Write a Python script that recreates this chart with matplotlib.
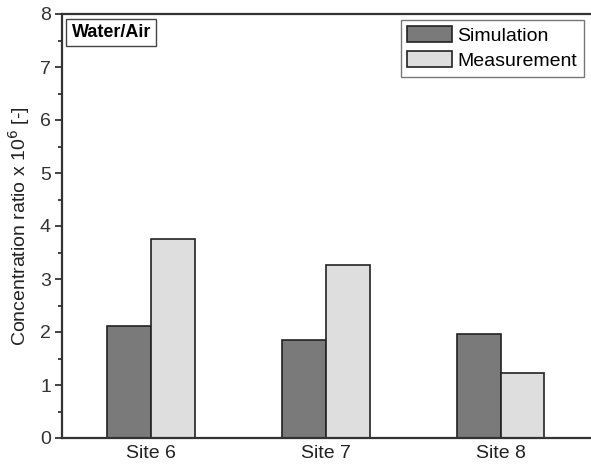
import matplotlib
matplotlib.use("Agg")
import matplotlib.pyplot as plt
import numpy as np
from matplotlib.ticker import MultipleLocator

plt.rcParams['font.family'] = ['Liberation Sans', 'DejaVu Sans']

sites = ["Site 6", "Site 7", "Site 8"]
simulation = [2.12, 1.85, 1.97]
measurement = [3.75, 3.27, 1.22]
series_names = ["Simulation", "Measurement"]

fig = plt.figure(figsize=(5.91, 4.67), dpi=100)
ax = fig.add_axes([62/591, 1-438/467, 1-62/591+0.01, (438-14)/467])

x = np.arange(1, len(sites)+1)
w = 0.25
ax.bar(x - w/2, simulation, w, color="#7a7a7a", edgecolor="#222222", linewidth=1.2, label=series_names[0])
ax.bar(x + w/2, measurement, w, color="#dedede", edgecolor="#222222", linewidth=1.2, label=series_names[1])

ax.set_xlim(0.49, 3.55)
ax.set_ylim(0, 8)
ax.set_xticks(x)
ax.set_xticklabels(sites, fontsize=14)
ax.tick_params(axis='x', length=0, pad=5, labelcolor="#222222")
ax.yaxis.set_major_locator(MultipleLocator(1))
ax.yaxis.set_minor_locator(MultipleLocator(0.5))
ax.tick_params(axis='y', which='major', length=5, width=1.2, labelsize=14, colors="#222222", labelcolor="#333333", pad=3)
ax.tick_params(axis='y', which='minor', length=3, width=1.2, colors="#222222")
for s in ["left", "bottom", "top"]:
    ax.spines[s].set_linewidth(1.6)
    ax.spines[s].set_color("#333333")
ax.spines["right"].set_visible(False)

ax.set_ylabel("Concentration ratio x 10$^6$ [-]", fontsize=14, color="#222222", labelpad=6)

ax.text(0.545, 7.65, "Water/Air", fontsize=13, fontweight="bold", va="center", ha="left",
        bbox=dict(boxstyle="square,pad=0.3", fc="white", ec="#444444", lw=1))

leg = ax.legend(loc="upper right", bbox_to_anchor=(0.975, 0.987), fontsize=14, frameon=True,
                fancybox=False, edgecolor="#555555", handlelength=2.3, handleheight=0.9,
                borderpad=0.35, labelspacing=0.3, handletextpad=0.25, borderaxespad=0.0)
leg.get_frame().set_linewidth(1.0)

fig.savefig("out.png", dpi=100)
